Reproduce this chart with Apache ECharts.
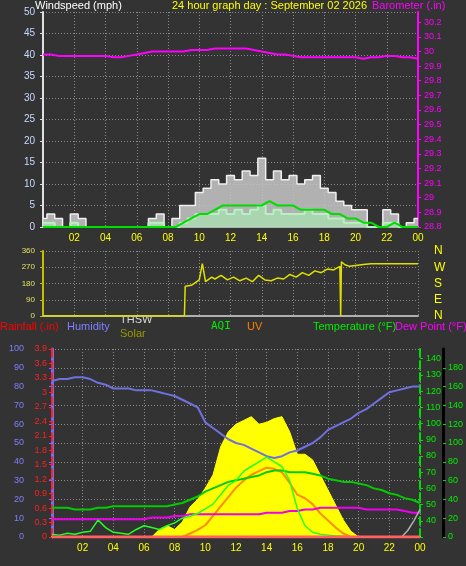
<!DOCTYPE html>
<html><head><meta charset="utf-8">
<script src="https://cdn.jsdelivr.net/npm/echarts@6/dist/echarts.min.js"></script>
<style>html,body{margin:0;padding:0;background:#333333}#c{width:466px;height:566px}</style>
</head><body><div id="c"></div>
<script>
// half-hour steps 0..24
const halfHours = Array.from({length:49},(_,i)=>i*0.5);
const xTickLabels = ['02','04','06','08','10','12','14','16','18','20','22','00'];
// Top panel
const windGust = [2,3,2,0,3,2,0,0,0,0,0,0,0,0,2,3,0,2,5,5,8,9,11,10,12,11,13,12,16,11,13,11,12,10,11,12,9,8,6,5,4,4,0,0,4,3,0,1,2];
const windLull = [1,1,0,0,1,0,0,0,0,0,0,0,0,0,1,1,0,0,1,2,3,3,3,4,3,4,3,4,5,3,4,3,3,3,4,3,3,2,2,1,1,1,0,0,1,1,0,0,0];
const windAvg  = [0,0,0,0,0,0,0,0,0,0,0,0,0,0,0,0,0,0,1,2,3,3,4,5,5,5,5,5,5,6,5,5,5,4,4,4,4,3,3,2,2,1,1,0,0,1,0,0,0];
const barometer = [29.98,29.98,29.97,29.97,29.97,29.97,29.97,29.97,29.97,29.96,29.96,29.97,29.98,29.99,30.0,30.0,30.0,30.0,30.0,30.01,30.01,30.01,30.02,30.02,30.02,30.02,30.02,30.01,30.0,29.99,29.98,29.98,29.97,29.96,29.96,29.96,29.96,29.96,29.96,29.96,29.96,29.95,29.96,29.96,29.97,29.97,29.96,29.96,29.95];
// Middle panel: wind direction
const dirHours = [0,9.05,9.1,9.5,10,10.2,10.4,10.8,11,11.4,11.8,12.2,12.6,13,13.4,13.8,14.2,14.6,15,15.4,15.8,16.2,16.6,17,17.4,17.8,18.2,18.6,19,19.05,19.1,19.3,19.6,20,20.5,21,22,23,24];
const dirVals  = [0,0,165,170,200,290,190,215,205,225,200,215,195,210,190,225,200,195,210,205,230,215,240,225,250,240,260,255,275,0,300,285,275,280,285,290,290,290,290];
// Bottom panel
const humidity = [83,84,84,85,85,84,82,81,79,79,79,78,78,78,77,76,75,73,71,69,61,58,55,52,50,49,47,45,43,42,43,45,46,48,50,53,57,59,61,63,66,68,71,74,77,78,79,80,80];
const temperature = [48,48,48,47,47,47,48,48,49,49,49,49,49,49,49,49,50,51,53,55,58,60,62,64,65,66,67,68,70,71,71,70,70,70,69,68,66,65,64,64,63,62,60,59,57,56,54,53,51];
const dewPoint = [41,41,41,41,41,41,41,41,41,41,41,41,41,42,42,42,43,43,44,44,44,44,44,44,44,44,44,44,45,45,45,46,46,47,47,48,48,48,48,48,48,47,47,47,47,47,46,45,45];
const aqi = [3,2,4,3,5,6,18,10,5,4,3,8,12,10,8,12,15,20,22,25,30,35,45,55,60,70,75,80,85,80,75,60,30,12,5,3,2,1,1,0,0,0,0,0,0,0,0,0,0];
const solar = [0,0,0,0,0,0,0,0,0,0,0,0,0,0,40,60,40,80,160,200,260,330,480,560,600,620,640,600,610,630,640,560,440,440,410,330,250,170,90,30,0,0,0,0,0,0,0,0,0];
const uv = [0,0,0,0,0,0,0,0,0,0,0,0,0,0,0,0,0,0,0.3,0.6,1,1.8,2.6,3.4,4.2,4.8,5.3,5.6,5.9,5.8,5.5,4.6,3.6,3.3,2.8,2.0,1.4,0.8,0.3,0,0,0,0,0,0,0,0,0,0];
const thswHours = [22.8,23.2,23.6,24];
const thsw = [30,34,40,47];
const rainfall = [0,0,0,0,0,0,0,0,0,0,0,0,0,0,0,0,0,0,0,0,0,0,0,0,0,0,0,0,0,0,0,0,0,0,0,0,0,0,0,0,0,0,0,0,0,0,0,0,0];
const pairs = (xs, ys) => xs.map((x,i)=>[x, ys[i]]);

const gridLine = {show:true,lineStyle:{color:'#8a8a8a',type:[1,2],width:1}};
const txt = (c)=>({color:c,fontFamily:'Liberation Sans',fontSize:10});
function xAxis(gi, showLabels){
  return {type:'value',gridIndex:gi,min:0,max:24,interval:2,
    axisLine:{show:true,lineStyle:{color:'#b0b0b0',width:2}},axisTick:{show:false},
    splitLine:gridLine,
    axisLabel:{show:showLabels,...txt('#ffff00'),margin:6,formatter:v=>v===0?'':xTickLabels[v/2-1]}};
}
const option = {
  backgroundColor:'#333333',animation:false,
  grid:[
    {left:43,right:48,top:12,height:215},
    {left:43,right:48,top:251,height:65},
    {left:52,right:44,top:349,height:188}
  ],
  xAxis:[xAxis(0,true),xAxis(1,false),xAxis(2,true)],
  yAxis:[
    {gridIndex:0,type:'value',min:0,max:50,interval:5,axisLine:{show:true,lineStyle:{color:'#e0e0e0',width:2}},
      axisTick:{show:true,length:3,lineStyle:{color:'#ddd'}},splitLine:gridLine,axisLabel:{...txt('#c8d8ff'),margin:8}},
    {gridIndex:0,type:'value',position:'right',min:28.8,max:30.27,interval:0.1,
      axisLine:{show:true,lineStyle:{color:'#ff00ff',width:2}},axisTick:{show:true,length:3,lineStyle:{color:'#ff00ff'}},
      splitLine:{show:false},axisLabel:{...txt('#ff00ff'),fontSize:9,margin:6,showMaxLabel:false,formatter:v=>+v.toFixed(1)+''}},
    {gridIndex:1,type:'value',min:0,max:360,interval:90,axisLine:{show:true,lineStyle:{color:'#c0c000',width:2}},
      axisTick:{show:true,length:3,lineStyle:{color:'#c0c000'}},splitLine:gridLine,axisLabel:{...txt('#e0e060'),fontSize:8,margin:8}},
    {gridIndex:1,type:'value',position:'right',min:0,max:360,interval:90,axisLine:{show:false},axisTick:{show:false},splitLine:{show:false},
      axisLabel:{...txt('#ffff00'),fontSize:12,margin:16,formatter:v=>({0:'N',90:'E',180:'S',270:'W',360:'N'})[v]}},
    {gridIndex:2,type:'value',min:0,max:100,interval:10,position:'left',offset:22,
      axisLine:{show:true,lineStyle:{color:'#7070ff',width:3}},axisTick:{show:true,length:3,lineStyle:{color:'#7070ff'}},
      splitLine:gridLine,axisLabel:{...txt('#7f7fff'),fontSize:9,margin:6}},
    {gridIndex:2,type:'value',min:0,max:3.9,interval:0.3,position:'left',
      axisLine:{show:true,lineStyle:{color:'#ff2020',width:2,type:'dashed'}},axisTick:{show:true,length:3,lineStyle:{color:'#ff2020'}},
      splitLine:{show:false},axisLabel:{...txt('#ff2020'),fontSize:9,margin:5,formatter:v=>+v.toFixed(1)+''}},
    {gridIndex:2,type:'value',min:30,max:146,interval:10,position:'right',
      axisLine:{show:true,lineStyle:{color:'#00dd00',width:2,type:'dashed'}},axisTick:{show:true,length:3,lineStyle:{color:'#00dd00'}},
      splitLine:{show:false},axisLabel:{...txt('#00ee00'),fontSize:9,margin:6,showMaxLabel:false,formatter:v=>v===30?'':v}},
    {gridIndex:2,type:'value',min:0,max:200,interval:20,position:'right',offset:23,
      axisLine:{show:true,lineStyle:{color:'#000000',width:3}},axisTick:{show:true,length:3,lineStyle:{color:'#00dd00'}},
      splitLine:{show:false},axisLabel:{...txt('#00ee00'),fontSize:9,margin:5,showMaxLabel:false,showMinLabel:true}},
    {gridIndex:2,type:'value',min:0,max:1000,show:false},
    {gridIndex:2,type:'value',min:0,max:16,show:false}
  ],
  graphic:[
    {type:'text',left:35,top:0,style:{text:'Windspeed (mph)',fill:'#ffffff',font:'11px Liberation Sans'}},
    {type:'text',left:172,top:0,style:{text:'24 hour graph day : September 02 2026',fill:'#ffff00',font:'11px Liberation Sans'}},
    {type:'text',left:372,top:0,style:{text:'Barometer (.in)',fill:'#ff00ff',font:'11px Liberation Sans'}},
    {type:'text',left:0,top:321,style:{text:'Rainfall (.in)',fill:'#ff0000',font:'11px Liberation Sans'}},
    {type:'text',left:67,top:321,style:{text:'Humidity',fill:'#7f7fff',font:'11px Liberation Sans'}},
    {type:'text',left:120,top:314,style:{text:'THSW',fill:'#d8d8d8',font:'11px Liberation Sans'}},
    {type:'text',left:120,top:328,style:{text:'Solar',fill:'#999900',font:'11px Liberation Sans'}},
    {type:'text',left:211,top:321,style:{text:'AQI',fill:'#00ee00',font:'11px DejaVu Sans Mono'}},
    {type:'text',left:247,top:321,style:{text:'UV',fill:'#ff7f00',font:'11px Liberation Sans'}},
    {type:'text',left:313,top:321,style:{text:'Temperature (°F)',fill:'#00ee00',font:'11px Liberation Sans'}},
    {type:'text',left:395,top:321,style:{text:'Dew Point (°F)',fill:'#ff00ff',font:'11px Liberation Sans'}}
  ],
  series:[
    {type:'line',xAxisIndex:0,yAxisIndex:0,data:pairs(halfHours,windGust),step:'middle',symbol:'none',
      lineStyle:{color:'#f0f0f0',width:1.5},areaStyle:{color:'#c8c8c8',opacity:0.85}},
    {type:'line',xAxisIndex:0,yAxisIndex:0,data:pairs(halfHours,windLull),step:'middle',symbol:'none',
      lineStyle:{color:'#b8f0c0',width:2},areaStyle:{color:'#a8e0b0',opacity:0.8}},
    {type:'line',xAxisIndex:0,yAxisIndex:0,data:pairs(halfHours,windAvg),symbol:'none',lineStyle:{color:'#00dd00',width:2}},
    {type:'line',xAxisIndex:0,yAxisIndex:1,data:pairs(halfHours,barometer),symbol:'none',lineStyle:{color:'#ff00ff',width:2}},
    {type:'line',xAxisIndex:1,yAxisIndex:2,data:pairs(dirHours,dirVals),symbol:'none',lineStyle:{color:'#e0e000',width:1.5}},
    {type:'line',xAxisIndex:2,yAxisIndex:8,data:pairs(halfHours,solar),symbol:'none',lineStyle:{color:'#ffff00',width:1},areaStyle:{color:'#ffff00',opacity:1}},
    {type:'line',xAxisIndex:2,yAxisIndex:9,data:pairs(halfHours,uv),symbol:'none',lineStyle:{color:'#ff8c00',width:2}},
    {type:'line',xAxisIndex:2,yAxisIndex:4,data:pairs(halfHours,humidity),symbol:'none',lineStyle:{color:'#7070e0',width:2}},
    {type:'line',xAxisIndex:2,yAxisIndex:6,data:pairs(halfHours,temperature),symbol:'none',lineStyle:{color:'#00cc00',width:2}},
    {type:'line',xAxisIndex:2,yAxisIndex:6,data:pairs(halfHours,dewPoint),symbol:'none',lineStyle:{color:'#ee00ee',width:2}},
    {type:'line',xAxisIndex:2,yAxisIndex:7,data:pairs(halfHours,aqi),symbol:'none',lineStyle:{color:'#22ff22',width:1.5}},
    {type:'line',xAxisIndex:2,yAxisIndex:6,data:pairs(thswHours,thsw),symbol:'none',lineStyle:{color:'#b0b0b0',width:1.5}},
    {type:'line',xAxisIndex:2,yAxisIndex:5,data:pairs(halfHours,rainfall),symbol:'none',lineStyle:{color:'#ff6060',width:3}}
  ]
};
echarts.init(document.getElementById('c')).setOption(option);
</script></body></html>
